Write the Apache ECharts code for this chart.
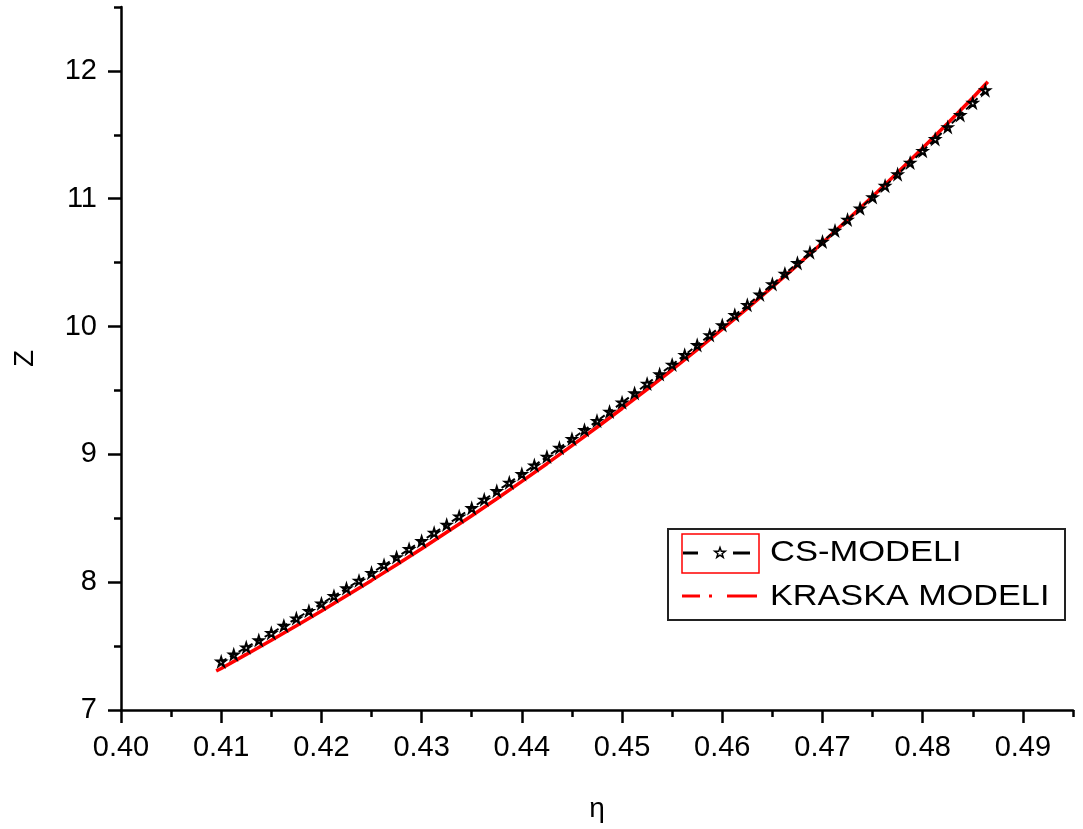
<!DOCTYPE html>
<html>
<head>
<meta charset="utf-8">
<script src="https://cdn.jsdelivr.net/npm/echarts@6/dist/echarts.min.js"></script>
<style>
html,body{margin:0;padding:0;background:#fff;}
#chart{width:1083px;height:829px;}
</style>
</head>
<body>
<div id="chart"></div>
<script>
// Tick labels
const xTickValues = [0.40, 0.41, 0.42, 0.43, 0.44, 0.45, 0.46, 0.47, 0.48, 0.49];
const yTickValues = [7, 8, 9, 10, 11, 12];

// CS-MODELI (black dashed line with stars)
const csEta = [0.41000,0.41125,0.41250,0.41375,0.41500,0.41625,0.41750,0.41875,0.42000,0.42125,
  0.42250,0.42375,0.42500,0.42625,0.42750,0.42875,0.43000,0.43125,0.43250,0.43375,
  0.43500,0.43625,0.43750,0.43875,0.44000,0.44125,0.44250,0.44375,0.44500,0.44625,
  0.44750,0.44875,0.45000,0.45125,0.45250,0.45375,0.45500,0.45625,0.45750,0.45875,
  0.46000,0.46125,0.46250,0.46375,0.46500,0.46625,0.46750,0.46875,0.47000,0.47125,
  0.47250,0.47375,0.47500,0.47625,0.47750,0.47875,0.48000,0.48125,0.48250,0.48375,
  0.48500,0.48625];
const csZ = [7.378,7.433,7.489,7.545,7.601,7.658,7.716,7.774,7.832,7.891,
  7.951,8.011,8.072,8.133,8.195,8.258,8.321,8.385,8.449,8.514,
  8.579,8.645,8.712,8.778,8.845,8.913,8.981,9.050,9.120,9.190,
  9.261,9.333,9.405,9.478,9.552,9.626,9.701,9.777,9.854,9.932,
  10.010,10.089,10.168,10.249,10.331,10.413,10.496,10.579,10.663,10.749,
  10.835,10.923,11.011,11.100,11.190,11.281,11.373,11.466,11.559,11.654,
  11.750,11.847];

// KRASKA MODELI (red line)
const krEta = [0.4095,0.4100,0.4125,0.4150,0.4175,0.4200,0.4225,0.4250,0.4275,0.4300,
  0.4325,0.4350,0.4375,0.4400,0.4425,0.4450,0.4475,0.4500,0.4525,0.4550,
  0.4575,0.4600,0.4625,0.4650,0.4675,0.4700,0.4725,0.4750,0.4775,0.4800,
  0.4825,0.4850,0.4865];
const krZ = [7.305,7.325,7.435,7.546,7.660,7.775,7.894,8.014,8.137,8.262,
  8.390,8.520,8.653,8.789,8.927,9.068,9.212,9.359,9.509,9.662,
  9.819,9.979,10.142,10.310,10.481,10.656,10.835,11.018,11.205,11.396,
  11.590,11.790,11.915];

const legendNames = ['CS-MODELI', 'KRASKA MODELI'];
const xName = 'η';
const yName = 'Z';

const starPath = 'path://M50,2 L61,36 L97,36 L68,57 L79,92 L50,70 L21,92 L32,57 L3,36 L39,36 Z';
const FONT = 'Liberation Sans, Arial, sans-serif';

const chart = echarts.init(document.getElementById('chart'), null, {renderer: 'canvas'});

const axisColor = '#000';

// legend star glyph (decoration only)
const legStar = [[0,-5.5],[1.29,-1.78],[5.23,-1.70],[2.09,0.68],[3.23,4.45],[0,2.2],[-3.23,4.45],[-2.09,0.68],[-5.23,-1.70],[-1.29,-1.78]];

const option = {
  backgroundColor: '#fff',
  animation: false,
  grid: {left: 121, right: 10, top: 7, bottom: 119},
  xAxis: [
    {
      type: 'value', min: 0.40, max: 0.495, interval: 0.005,
      axisLine: {show: true, lineStyle: {color: axisColor, width: 2.5}},
      axisTick: {show: true, inside: false, length: 7, lineStyle: {color: axisColor, width: 2.5}},
      axisLabel: {show: false},
      splitLine: {show: false},
      name: xName, nameLocation: 'middle', nameGap: 85,
      nameTextStyle: {fontFamily: FONT, fontSize: 28, color: '#000'}
    },
    {
      type: 'value', min: 0.40, max: 0.495, position: 'bottom', offset: 0,
      axisLine: {show: false},
      axisTick: {show: true, inside: false, length: 13, customValues: xTickValues, lineStyle: {color: axisColor, width: 2.5}},
      axisLabel: {show: true, customValues: xTickValues, margin: 23, fontFamily: FONT, fontSize: 29, color: '#000',
        formatter: v => v.toFixed(2)},
      splitLine: {show: false}
    }
  ],
  yAxis: [
    {
      type: 'value', min: 7, max: 12.5, interval: 0.5,
      axisLine: {show: true, lineStyle: {color: axisColor, width: 2.5}},
      axisTick: {show: true, inside: false, length: 7, lineStyle: {color: axisColor, width: 2.5}},
      axisLabel: {show: false},
      splitLine: {show: false},
      name: yName, nameLocation: 'middle', nameGap: 82, nameRotate: 90,
      nameTextStyle: {fontFamily: FONT, fontSize: 28, color: '#000'}
    },
    {
      type: 'value', min: 7, max: 12.5, position: 'left', offset: 0,
      axisLine: {show: false},
      axisTick: {show: true, inside: false, length: 13, customValues: yTickValues, lineStyle: {color: axisColor, width: 2.5}},
      axisLabel: {show: true, customValues: yTickValues, margin: 24, fontFamily: FONT, fontSize: 29, color: '#000',
        formatter: v => String(v)},
      splitLine: {show: false}
    }
  ],
  series: [
    {
      name: legendNames[1], type: 'line', xAxisIndex: 0, yAxisIndex: 0,
      data: krEta.map((x, i) => [x, krZ[i]]),
      showSymbol: false, smooth: false,
      lineStyle: {color: '#ff0000', width: 3.5},
      z: 2
    },
    {
      name: legendNames[0], type: 'line', xAxisIndex: 0, yAxisIndex: 0,
      data: csEta.map((x, i) => [x, csZ[i]]),
      symbol: starPath, symbolSize: 9, showSymbol: true, showAllSymbol: true,
      itemStyle: {color: 'rgba(255,255,255,0)', borderColor: '#000', borderWidth: 2},
      lineStyle: {color: '#000', width: 2, type: [6, 4]},
      z: 3
    }
  ],
  graphic: [
    {type: 'rect', shape: {x: 668, y: 529, width: 397, height: 91}, style: {fill: '#fff', stroke: '#222', lineWidth: 2}, z: 100},
    {type: 'rect', shape: {x: 682, y: 534, width: 77, height: 39}, style: {fill: 'none', stroke: '#ff0000', lineWidth: 1.5}, z: 101},
    {type: 'line', shape: {x1: 683, y1: 553, x2: 698, y2: 553}, style: {stroke: '#000', lineWidth: 3}, z: 101},
    {type: 'line', shape: {x1: 733, y1: 553, x2: 750, y2: 553}, style: {stroke: '#000', lineWidth: 3}, z: 101},
    {type: 'polygon', x: 720, y: 553, shape: {points: legStar}, style: {fill: 'none', stroke: '#000', lineWidth: 1.5}, z: 101},
    {type: 'text', x: 770, y: 553, scaleX: 1.15, style: {text: legendNames[0], font: '30px ' + FONT, fill: '#000', verticalAlign: 'middle', align: 'left'}, z: 101},
    {type: 'line', shape: {x1: 682, y1: 596, x2: 700, y2: 596}, style: {stroke: '#ff0000', lineWidth: 3}, z: 101},
    {type: 'line', shape: {x1: 709, y1: 596, x2: 712, y2: 596}, style: {stroke: '#ff0000', lineWidth: 3}, z: 101},
    {type: 'line', shape: {x1: 727, y1: 596, x2: 757, y2: 596}, style: {stroke: '#ff0000', lineWidth: 3}, z: 101},
    {type: 'text', x: 770, y: 597, scaleX: 1.14, style: {text: legendNames[1], font: '30px ' + FONT, fill: '#000', verticalAlign: 'middle', align: 'left'}, z: 101}
  ]
};
chart.setOption(option);
</script>
</body>
</html>
